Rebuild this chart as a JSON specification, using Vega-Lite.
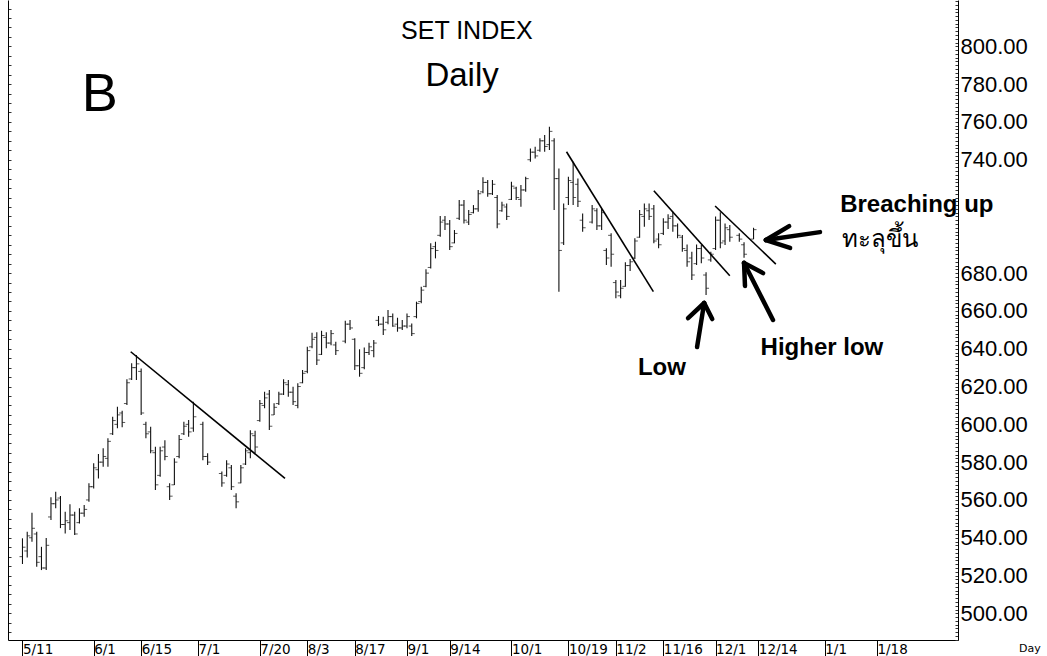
{
  "$schema": "https://vega.github.io/schema/vega-lite/v6.json",
  "width": 950,
  "height": 640,
  "autosize": {"type": "none"},
  "padding": {"left": 8, "top": 0, "right": 89, "bottom": 16},
  "background": "white",
  "config": {"view": {"stroke": null}, "axis": {"grid": false}},
  "datasets": {
    "bars": [
      {"i":0,"o":530,"h":539.7,"l":526.1,"c":535},
      {"i":1,"o":533,"h":543.2,"l":529.6,"c":541},
      {"i":2,"o":540,"h":553.2,"l":537.9,"c":545},
      {"i":3,"o":542,"h":543.2,"l":524.7,"c":527},
      {"i":4,"o":530,"h":535.2,"l":522.9,"c":524},
      {"i":5,"o":524,"h":539.8,"l":522.9,"c":536},
      {"i":6,"o":551,"h":561.4,"l":549.4,"c":558},
      {"i":7,"o":558,"h":564.3,"l":555.6,"c":560},
      {"i":8,"o":561,"h":562.1,"l":545.1,"c":547},
      {"i":9,"o":547,"h":553.8,"l":542.3,"c":549},
      {"i":10,"o":548,"h":557.7,"l":544.1,"c":552},
      {"i":11,"o":552,"h":553.8,"l":541.4,"c":542},
      {"i":12,"o":548,"h":555.6,"l":547.6,"c":553},
      {"i":13,"o":553,"h":557.3,"l":551.1,"c":555},
      {"i":14,"o":560,"h":568.8,"l":559.0,"c":567},
      {"i":15,"o":567,"h":579.4,"l":566.1,"c":577},
      {"i":16,"o":576,"h":584.3,"l":571.4,"c":580},
      {"i":17,"o":580,"h":587.3,"l":577.6,"c":583},
      {"i":18,"o":582,"h":592.6,"l":577.6,"c":591},
      {"i":19,"o":595,"h":604.0,"l":594.3,"c":602},
      {"i":20,"o":600,"h":609.3,"l":597.9,"c":605},
      {"i":21,"o":606,"h":607.2,"l":598.4,"c":601},
      {"i":22,"o":611,"h":623.8,"l":610.2,"c":622},
      {"i":23,"o":624,"h":632.3,"l":623.4,"c":630},
      {"i":24,"o":630,"h":636.7,"l":623.4,"c":632},
      {"i":25,"o":628,"h":629.6,"l":604.9,"c":606},
      {"i":26,"o":600,"h":601.4,"l":592.6,"c":595},
      {"i":27,"o":596,"h":598.7,"l":584.7,"c":586},
      {"i":28,"o":585,"h":588.1,"l":565.3,"c":568},
      {"i":29,"o":573,"h":588.1,"l":572.3,"c":586},
      {"i":30,"o":588,"h":591.6,"l":581.0,"c":583},
      {"i":31,"o":567,"h":568.8,"l":560.0,"c":562},
      {"i":32,"o":568,"h":582.0,"l":567.9,"c":580},
      {"i":33,"o":583,"h":594.3,"l":582.0,"c":592},
      {"i":34,"o":595,"h":601.4,"l":594.3,"c":599},
      {"i":35,"o":600,"h":602.3,"l":593.4,"c":596},
      {"i":36,"o":598,"h":612.0,"l":596.1,"c":604},
      {"i":38,"o":600,"h":601.4,"l":581.0,"c":583},
      {"i":39,"o":583,"h":584.7,"l":578.5,"c":580},
      {"i":42,"o":574,"h":575.0,"l":567.0,"c":569},
      {"i":43,"o":573,"h":581.0,"l":572.3,"c":579},
      {"i":44,"o":577,"h":578.5,"l":565.3,"c":567},
      {"i":45,"o":562,"h":563.5,"l":555.6,"c":559},
      {"i":46,"o":569,"h":578.5,"l":568.8,"c":577},
      {"i":47,"o":579,"h":587.3,"l":578.5,"c":586},
      {"i":48,"o":585,"h":596.9,"l":582.0,"c":595},
      {"i":49,"o":594,"h":596.6,"l":584.7,"c":588},
      {"i":50,"o":602,"h":612.9,"l":601.4,"c":611},
      {"i":51,"o":610,"h":617.3,"l":608.5,"c":614},
      {"i":52,"o":616,"h":618.2,"l":597.0,"c":599},
      {"i":53,"o":605,"h":611.1,"l":604.9,"c":609},
      {"i":54,"o":611,"h":617.3,"l":610.2,"c":616},
      {"i":55,"o":616,"h":623.8,"l":615.5,"c":622},
      {"i":56,"o":621,"h":623.4,"l":614.6,"c":617},
      {"i":57,"o":617,"h":619.9,"l":610.2,"c":612},
      {"i":58,"o":610,"h":621.7,"l":608.5,"c":620},
      {"i":59,"o":622,"h":628.7,"l":621.7,"c":627},
      {"i":60,"o":628,"h":641.1,"l":627.0,"c":639},
      {"i":61,"o":641,"h":648.5,"l":640.2,"c":645},
      {"i":62,"o":646,"h":648.7,"l":631.4,"c":634},
      {"i":63,"o":637,"h":649.5,"l":636.7,"c":647},
      {"i":64,"o":646,"h":648.7,"l":640.2,"c":643},
      {"i":65,"o":643,"h":649.9,"l":641.9,"c":648},
      {"i":66,"o":642,"h":643.7,"l":636.7,"c":639},
      {"i":68,"o":644,"h":654.8,"l":642.9,"c":653},
      {"i":69,"o":653,"h":655.2,"l":649.9,"c":651},
      {"i":70,"o":645,"h":645.5,"l":628.7,"c":631},
      {"i":71,"o":631,"h":639.7,"l":625.2,"c":627},
      {"i":72,"o":630,"h":640.7,"l":629.1,"c":638},
      {"i":73,"o":638,"h":643.2,"l":636.7,"c":641},
      {"i":74,"o":639,"h":644.6,"l":635.5,"c":643},
      {"i":75,"o":655,"h":657.3,"l":652.0,"c":653},
      {"i":76,"o":653,"h":656.9,"l":647.2,"c":650},
      {"i":77,"o":654,"h":660.5,"l":653.0,"c":657},
      {"i":78,"o":657,"h":658.7,"l":651.6,"c":652},
      {"i":79,"o":653,"h":656.4,"l":649.0,"c":651},
      {"i":80,"o":651,"h":655.2,"l":649.9,"c":652},
      {"i":81,"o":652,"h":658.7,"l":650.8,"c":657},
      {"i":82,"o":652,"h":653.4,"l":646.7,"c":648},
      {"i":83,"o":657,"h":664.9,"l":656.1,"c":664},
      {"i":84,"o":665,"h":672.8,"l":664.0,"c":671},
      {"i":85,"o":673,"h":682.0,"l":672.5,"c":680},
      {"i":86,"o":683,"h":695.8,"l":682.5,"c":693},
      {"i":87,"o":694,"h":696.6,"l":687.8,"c":692},
      {"i":88,"o":700,"h":710.2,"l":699.3,"c":707},
      {"i":89,"o":708,"h":710.2,"l":702.8,"c":706},
      {"i":90,"o":706,"h":708.1,"l":692.2,"c":694},
      {"i":91,"o":696,"h":702.8,"l":695.8,"c":701},
      {"i":92,"o":709,"h":718.7,"l":708.1,"c":716},
      {"i":93,"o":716,"h":718.7,"l":706.3,"c":708},
      {"i":94,"o":707,"h":713.4,"l":705.4,"c":711},
      {"i":95,"o":712,"h":716.0,"l":711.6,"c":714},
      {"i":96,"o":714,"h":724.0,"l":712.5,"c":722},
      {"i":97,"o":723,"h":730.7,"l":722.2,"c":728},
      {"i":98,"o":728,"h":729.3,"l":720.4,"c":722},
      {"i":99,"o":722,"h":729.3,"l":721.3,"c":727},
      {"i":100,"o":720,"h":721.3,"l":703.7,"c":706},
      {"i":101,"o":713,"h":717.8,"l":712.5,"c":716},
      {"i":102,"o":715,"h":716.9,"l":708.1,"c":710},
      {"i":103,"o":719,"h":728.4,"l":718.7,"c":726},
      {"i":104,"o":725,"h":725.7,"l":718.7,"c":720},
      {"i":105,"o":719,"h":726.6,"l":715.1,"c":724},
      {"i":106,"o":724,"h":731.0,"l":723.1,"c":730},
      {"i":107,"o":740,"h":746.0,"l":738.9,"c":744},
      {"i":108,"o":744,"h":746.9,"l":740.7,"c":742},
      {"i":109,"o":745,"h":751.3,"l":744.2,"c":750},
      {"i":110,"o":750,"h":753.1,"l":744.2,"c":747},
      {"i":111,"o":748,"h":757.5,"l":745.1,"c":755},
      {"i":112,"o":750,"h":751.3,"l":713.4,"c":730},
      {"i":113,"o":730,"h":735.4,"l":670.2,"c":692},
      {"i":114,"o":696,"h":716.9,"l":694.9,"c":714},
      {"i":115,"o":720,"h":731.0,"l":716.0,"c":729},
      {"i":116,"o":728,"h":738.9,"l":716.0,"c":720},
      {"i":117,"o":727,"h":730.0,"l":715.0,"c":718},
      {"i":118,"o":708,"h":711.6,"l":701.9,"c":704},
      {"i":120,"o":707,"h":716.0,"l":706.3,"c":714},
      {"i":121,"o":713,"h":714.3,"l":702.8,"c":705},
      {"i":122,"o":705,"h":713.9,"l":702.8,"c":712},
      {"i":123,"o":692,"h":693.1,"l":684.3,"c":688},
      {"i":124,"o":700,"h":701.1,"l":683.4,"c":690},
      {"i":125,"o":675,"h":676.4,"l":666.7,"c":670},
      {"i":126,"o":668,"h":676.4,"l":666.7,"c":672},
      {"i":127,"o":673,"h":685.7,"l":672.8,"c":684},
      {"i":128,"o":684,"h":687.5,"l":681.1,"c":686},
      {"i":129,"o":688,"h":698.4,"l":687.5,"c":697},
      {"i":130,"o":699,"h":713.4,"l":698.7,"c":711},
      {"i":131,"o":710,"h":716.9,"l":704.5,"c":714},
      {"i":132,"o":713,"h":716.9,"l":708.1,"c":710},
      {"i":133,"o":714,"h":716.0,"l":695.8,"c":697},
      {"i":134,"o":698,"h":701.1,"l":693.1,"c":695},
      {"i":135,"o":701,"h":709.0,"l":700.2,"c":707},
      {"i":136,"o":707,"h":711.1,"l":703.3,"c":709},
      {"i":137,"o":710,"h":712.5,"l":701.9,"c":705},
      {"i":138,"o":705,"h":706.3,"l":698.4,"c":700},
      {"i":139,"o":699,"h":700.2,"l":691.3,"c":693},
      {"i":140,"o":692,"h":695.2,"l":683.4,"c":686},
      {"i":141,"o":688,"h":691.3,"l":676.4,"c":679},
      {"i":142,"o":685,"h":695.2,"l":684.3,"c":693},
      {"i":143,"o":693,"h":694.9,"l":685.2,"c":688},
      {"i":144,"o":679,"h":680.4,"l":668.4,"c":672},
      {"i":145,"o":687,"h":691.3,"l":686.0,"c":690},
      {"i":146,"o":693,"h":709.9,"l":692.2,"c":708},
      {"i":147,"o":708,"h":712.2,"l":693.1,"c":696},
      {"i":148,"o":697,"h":706.3,"l":694.9,"c":704},
      {"i":149,"o":703,"h":705.4,"l":696.6,"c":699},
      {"i":151,"o":700,"h":701.1,"l":696.6,"c":698},
      {"i":152,"o":695,"h":696.3,"l":688.1,"c":690},
      {"i":154,"o":698,"h":704.0,"l":698.0,"c":703}
    ],
    "trend": [
      {"x":22.8,"y":638.4,"x2":55.3,"y2":571.4},
      {"x":114.6,"y":744.2,"x2":132.9,"y2":670.2},
      {"x":133.0,"y":723.6,"x2":149.0,"y2":678.6},
      {"x":145.9,"y":715.5,"x2":158.7,"y2":684.8}
    ],
    "arrows": [
      {"x":142.1,"y":640.9,"x2":143.6,"y2":664.2},
      {"x":143.6,"y":664.2,"x2":140.2,"y2":656.2},
      {"x":143.6,"y":664.2,"x2":145.3,"y2":655.7},
      {"x":158.1,"y":655.2,"x2":152.0,"y2":685.4},
      {"x":152.0,"y":685.4,"x2":152.2,"y2":673.2},
      {"x":152.0,"y":685.4,"x2":156.0,"y2":680.0},
      {"x":168.0,"y":701.7,"x2":156.6,"y2":697.5},
      {"x":156.6,"y":697.5,"x2":161.5,"y2":704.9},
      {"x":156.6,"y":697.5,"x2":161.7,"y2":693.3}
    ]
  },
  "resolve": {"axis": {"x": "shared", "y": "independent"}},
  "layer": [
    {
      "data": {"name": "bars"},
      "mark": {"type": "rule", "color": "#111", "strokeWidth": 1.1},
      "encoding": {
        "x": {
          "field": "i", "type": "quantitative",
          "scale": {"domain": [-3.05, 197.07], "nice": false, "zero": false},
          "axis": {
            "orient": "bottom",
            "values": [0,15,25,37,50,60,70,81,90,103,115,125,135,146,155,169,180],
            "labelExpr": "datum.value==0?'5/11':datum.value==15?'6/1':datum.value==25?'6/15':datum.value==37?'7/1':datum.value==50?'7/20':datum.value==60?'8/3':datum.value==70?'8/17':datum.value==81?'9/1':datum.value==90?'9/14':datum.value==103?'10/1':datum.value==115?'10/19':datum.value==125?'11/2':datum.value==135?'11/16':datum.value==146?'12/1':datum.value==155?'12/14':datum.value==169?'1/1':'1/18'",
            "title": null, "grid": false,
            "tickSize": 16, "tickColor": "#000", "domainColor": "#000",
            "labelAlign": "left", "labelBaseline": "top", "labelPadding": -14, "labelDx": 3,
            "labelFont": "DejaVu Sans", "labelFontSize": 13.5, "labelColor": "#000",
            "labelOverlap": false, "labelFlush": false, "labelBound": false
          }
        },
        "y": {
          "field": "l", "type": "quantitative",
          "scale": {"domain": [485.9, 824.5], "nice": false, "zero": false},
          "axis": {
            "orient": "right", "title": null, "grid": false,
            "tickCount": 170,
            "labelExpr": "(datum.value % 20 === 0 && datum.value <= 800 && datum.value !== 700 && datum.value !== 720) ? format(datum.value, '.2f') : ''",
            "tickSize": -3, "tickColor": "#333", "domainColor": "#000",
            "labelPadding": 5, "labelFont": "Liberation Sans", "labelFontSize": 22, "labelColor": "#000",
            "labelOverlap": false, "labelFlush": false, "labelBound": false
          }
        },
        "y2": {"field": "h"}
      }
    },
    {
      "data": {"name": "bars"},
      "mark": {"type": "tick", "orient": "horizontal", "size": 3, "thickness": 1, "xOffset": -1.5, "color": "#111"},
      "encoding": {
        "x": {"field": "i", "type": "quantitative"},
        "y": {"field": "o", "type": "quantitative", "axis": null}
      }
    },
    {
      "data": {"name": "bars"},
      "mark": {"type": "tick", "orient": "horizontal", "size": 3, "thickness": 1, "xOffset": 1.5, "color": "#111"},
      "encoding": {
        "x": {"field": "i", "type": "quantitative"},
        "y": {"field": "c", "type": "quantitative", "axis": null}
      }
    },
    {
      "data": {"name": "trend"},
      "mark": {"type": "rule", "color": "#000", "strokeWidth": 1.6},
      "encoding": {
        "x": {"field": "x", "type": "quantitative"},
        "x2": {"field": "x2"},
        "y": {
          "field": "y", "type": "quantitative",
          "axis": {
            "orient": "left", "title": null, "labels": false, "grid": false,
            "values": [490,495,500,505,510,515,520,525,530,535,540,545,550,555,560,565,570,575,580,585,590,595,600,605,610,615,620,625,630,635,640,645,650,655,660,665,670,675,680,685,690,695,700,705,710,715,720,725,730,735,740,745,750,755,760,765,770,775,780,785,790,795,800,805,810,815,820],
            "tickSize": -3, "tickColor": "#333", "domainColor": "#000"
          }
        },
        "y2": {"field": "y2"}
      }
    },
    {
      "data": {"name": "arrows"},
      "mark": {"type": "rule", "color": "#000", "strokeWidth": 4.5, "strokeCap": "round"},
      "encoding": {
        "x": {"field": "x", "type": "quantitative"},
        "x2": {"field": "x2"},
        "y": {"field": "y", "type": "quantitative", "axis": null},
        "y2": {"field": "y2"}
      }
    },
    {
      "data": {"values": [{"x": 93.6, "y": 808.1, "t": "SET INDEX"}]},
      "mark": {"type": "text", "font": "Liberation Sans", "fontSize": 25, "align": "center", "baseline": "middle", "color": "#000"},
      "encoding": {"x": {"field": "x", "type": "quantitative"}, "y": {"field": "y", "type": "quantitative", "axis": null}, "text": {"field": "t"}}
    },
    {
      "data": {"values": [{"x": 92.6, "y": 784.3, "t": "Daily"}]},
      "mark": {"type": "text", "font": "Liberation Sans", "fontSize": 33, "align": "center", "baseline": "middle", "color": "#000"},
      "encoding": {"x": {"field": "x", "type": "quantitative"}, "y": {"field": "y", "type": "quantitative", "axis": null}, "text": {"field": "t"}}
    },
    {
      "data": {"values": [{"x": 16.3, "y": 774.2, "t": "B"}]},
      "mark": {"type": "text", "font": "Liberation Sans", "fontSize": 54, "align": "center", "baseline": "middle", "color": "#000"},
      "encoding": {"x": {"field": "x", "type": "quantitative"}, "y": {"field": "y", "type": "quantitative", "axis": null}, "text": {"field": "t"}}
    },
    {
      "data": {"values": [{"x": 188.4, "y": 716.0, "t": "Breaching up"}, {"x": 168.4, "y": 640.4, "t": "Higher low"}]},
      "mark": {"type": "text", "font": "Liberation Sans", "fontSize": 24, "fontWeight": "bold", "align": "center", "baseline": "middle", "color": "#000"},
      "encoding": {"x": {"field": "x", "type": "quantitative"}, "y": {"field": "y", "type": "quantitative", "axis": null}, "text": {"field": "t"}}
    },
    {
      "data": {"values": [{"x": 134.7, "y": 629.8, "t": "Low"}]},
      "mark": {"type": "text", "font": "Liberation Sans", "fontSize": 24, "fontWeight": "bold", "align": "center", "baseline": "middle", "color": "#000"},
      "encoding": {"x": {"field": "x", "type": "quantitative"}, "y": {"field": "y", "type": "quantitative", "axis": null}, "text": {"field": "t"}}
    },
    {
      "data": {"values": [{"x": 180.6, "y": 697.5, "t": "ทะลุขึ้น"}]},
      "mark": {"type": "text", "font": "Noto Sans, DejaVu Sans, sans-serif", "fontSize": 24, "align": "center", "baseline": "middle", "color": "#000"},
      "encoding": {"x": {"field": "x", "type": "quantitative"}, "y": {"field": "y", "type": "quantitative", "axis": null}, "text": {"field": "t"}}
    },
    {
      "data": {"values": [{"x": 212.2, "y": 481.3, "t": "Day"}]},
      "mark": {"type": "text", "font": "DejaVu Sans", "fontSize": 11, "align": "center", "baseline": "middle", "color": "#000"},
      "encoding": {"x": {"field": "x", "type": "quantitative"}, "y": {"field": "y", "type": "quantitative", "axis": null}, "text": {"field": "t"}}
    }
  ]
}
